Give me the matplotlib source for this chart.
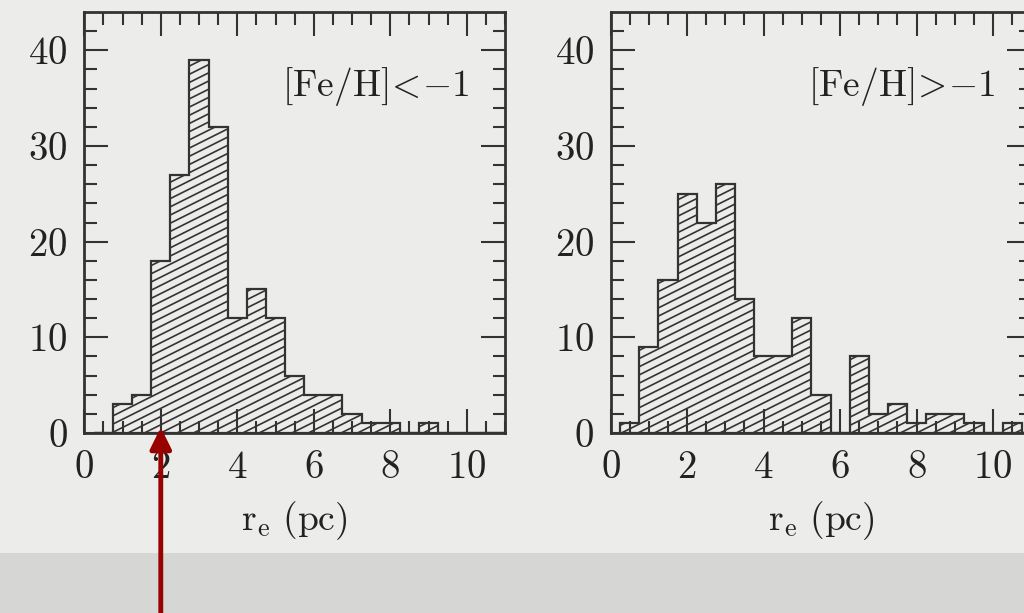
import numpy as np
import matplotlib.pyplot as plt
from matplotlib.patches import Polygon, Rectangle
from matplotlib.collections import LineCollection

# bin edges 0.25, 0.75, ... (0.5 pc wide)
edges = np.arange(0.25, 11.26, 0.5)
counts_poor = [0, 3, 4, 18, 27, 39, 32, 12, 15, 12, 6, 4, 4, 2, 1, 1, 0, 1, 0, 0, 0, 0]
counts_rich = [1, 9, 16, 25, 22, 26, 14, 8, 8, 12, 4, 0, 8, 2, 3, 1, 2, 2, 1, 0, 1, 0]
labels = [r'$[\mathrm{Fe/H}]\!<\!{-}1$', r'$[\mathrm{Fe/H}]\!>\!{-}1$']

plt.rcParams['font.family'] = 'serif'
plt.rcParams['font.serif'] = ['cmr10', 'DejaVu Serif']
plt.rcParams['mathtext.fontset'] = 'cm'
plt.rcParams['axes.formatter.use_mathtext'] = True

bg = '#ececea'
ink = '#333333'
fig = plt.figure(figsize=(10.24, 6.13), dpi=100, facecolor=bg)

# textured band at the bottom
fig.patches.append(Rectangle((0, 0), 1, 0.098, transform=fig.transFigure,
                             facecolor='#d6d6d4', edgecolor='none', zorder=-5))

xmax, ymax = 11, 44
axw, axh = 0.4109, 0.6868
axes = [fig.add_axes([0.0823, 0.2936, axw, axh]),
        fig.add_axes([0.5963, 0.2936, axw, axh])]

px_x = axw * 1024 / xmax
px_y = axh * 613 / ymax
slope = 0.5 * px_x / px_y      # hatch slope in data units
step = 8.2 / px_y              # vertical spacing of hatch lines

for ax, counts, lab in zip(axes, [counts_poor, counts_rich], labels):
    ax.set_facecolor(bg)
    # step outline of histogram
    xs, ys = [edges[0]], [0]
    for i, c in enumerate(counts):
        xs += [edges[i], edges[i + 1]]
        ys += [c, c]
    xs.append(edges[-1]); ys.append(0)
    outline = Polygon(np.column_stack([xs, ys]), closed=True, facecolor='none',
                      edgecolor=ink, lw=1.6, zorder=3)
    ax.add_patch(outline)
    # hatching clipped to the histogram
    segs = [[(0, c0), (xmax, c0 + slope * xmax)]
            for c0 in np.arange(-slope * xmax, ymax, step)]
    lc = LineCollection(segs, colors='#333333', lw=1.2, zorder=2)
    ax.add_collection(lc)
    lc.set_clip_path(outline)

    ax.set_xlim(0, xmax)
    ax.set_ylim(0, ymax)
    ax.set_xticks(range(0, 11, 2))
    ax.set_xticks(np.arange(0, 11.01, 0.5), minor=True)
    ax.set_yticks(range(0, 41, 10))
    ax.set_yticks(range(0, 44, 2), minor=True)
    ax.tick_params(which='both', direction='in', top=True, right=True,
                   color=ink, width=1.5, labelsize=28, labelcolor='#222222')
    ax.tick_params(which='major', length=17, pad=12)
    ax.tick_params(which='minor', length=9)
    for s in ax.spines.values():
        s.set_color(ink)
        s.set_linewidth(2)
    ax.set_xlabel(r'$\mathrm{r_e\ (pc)}$', fontsize=27, color='#222222', labelpad=10)
    ax.text(10.05, 36.2, lab, ha='right', va='center', fontsize=27, color='#222222')

# red arrow pointing at 2 pc
axes[0].annotate('', xy=(2, 0.6), xycoords='data',
                 xytext=(2, -0.02), textcoords=('data', 'figure fraction'),
                 arrowprops=dict(arrowstyle='-|>,head_length=0.65,head_width=0.32',
                                 mutation_scale=20, lw=3.5, color='#990000',
                                 shrinkA=0, shrinkB=0),
                 annotation_clip=False, zorder=10)

fig.savefig('out.png', dpi=100, facecolor=bg)
